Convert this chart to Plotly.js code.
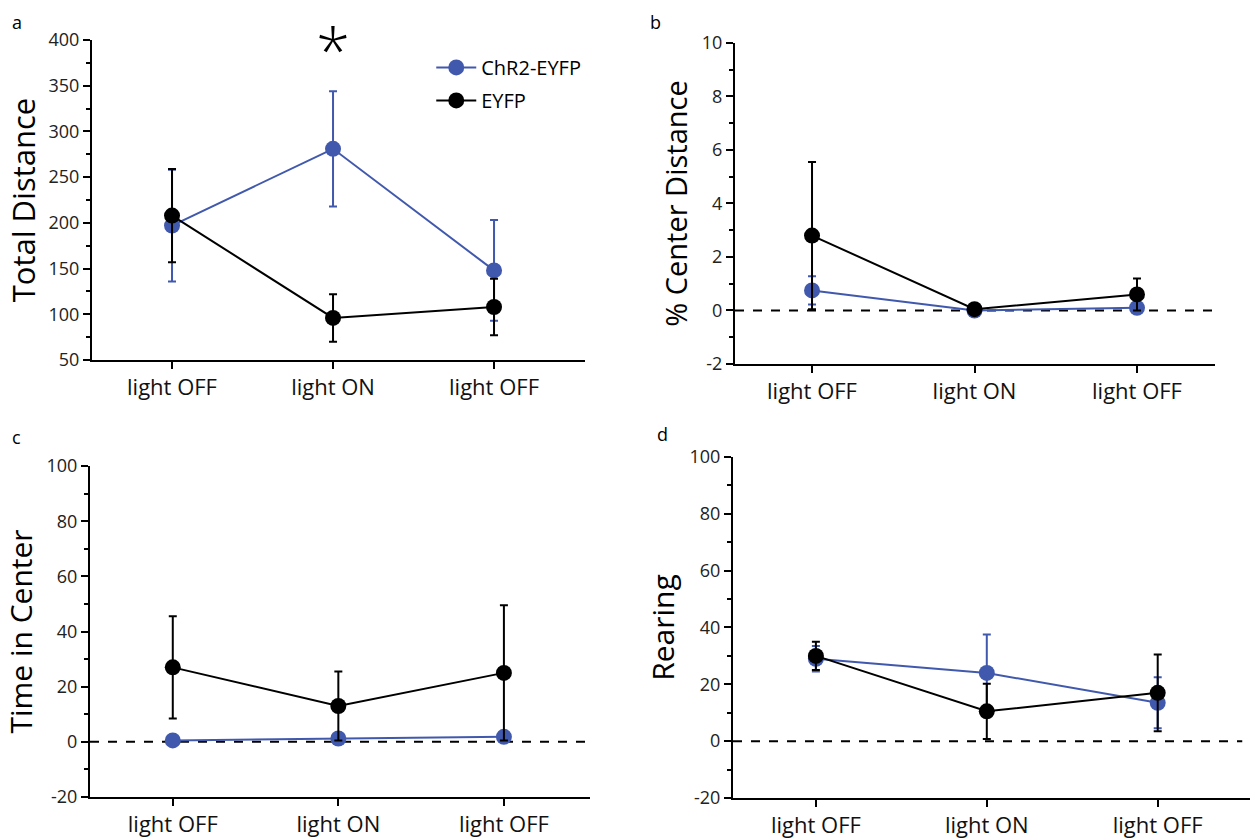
<!DOCTYPE html>
<html>
<head>
<meta charset="utf-8">
<script src="https://cdn.plot.ly/plotly-3.0.1.min.js"></script>
<style>html,body{margin:0;padding:0;background:#fff;}#chart{width:1250px;height:840px;}</style>
</head>
<body>
<div id="chart"></div>
<script>
// ---- data ----
const categories = ["light OFF", "light ON", "light OFF"];
const seriesNames = ["ChR2-EYFP", "EYFP"];

// a: Total Distance
const totalDistChR2 = [197, 281, 148];
const totalDistChR2Err = [61, 63, 55];
const totalDistEYFP = [208, 96, 108];
const totalDistEYFPErr = [51, 26, 31];

// b: % Center Distance
const centerDistChR2 = [0.75, 0.0, 0.1];
const centerDistChR2Err = [0.53, 0.05, 0.1];
const centerDistEYFP = [2.8, 0.05, 0.6];
const centerDistEYFPErr = [2.75, 0.05, 0.6];

// c: Time in Center
const timeCenterChR2 = [0.5, 1.2, 1.8];
const timeCenterChR2Err = [0.5, 0.6, 0.8];
const timeCenterEYFP = [27, 13, 25];
const timeCenterEYFPErr = [18.5, 12.5, 24.5];

// d: Rearing
const rearingChR2 = [29, 24, 13.5];
const rearingChR2Err = [4.5, 13.5, 9];
const rearingEYFP = [30, 10.5, 17];
const rearingEYFPErr = [5, 9.7, 13.5];

const yTicksA = [50, 100, 150, 200, 250, 300, 350, 400];
const yTickLabelsA = ["50", "100", "150", "200", "250", "300", "350", "400"];
const yTicksB = [-2, 0, 2, 4, 6, 8, 10];
const yTickLabelsB = ["-2", "0", "2", "4", "6", "8", "10"];
const yTicksCD = [-20, 0, 20, 40, 60, 80, 100];
const yTickLabelsCD = ["-20", "0", "20", "40", "60", "80", "100"];

// ---- styling ----
const BLUE = "#4159ad";
const BLACK = "#000000";
const xIdx = categories.map((_, i) => i);

function trace(y, err, color, name, ax, showLegend) {
  return {
    x: xIdx, y: y, type: "scatter", mode: "lines+markers",
    name: name, legendgroup: name, showlegend: showLegend,
    xaxis: "x" + ax, yaxis: "y" + ax,
    line: {color: color, width: 2},
    marker: {color: color, size: 16},
    error_y: {type: "data", array: err, visible: true, color: color, thickness: 2, width: 4}
  };
}

const data = [
  trace(totalDistChR2, totalDistChR2Err, BLUE, seriesNames[0], "", true),
  trace(totalDistEYFP, totalDistEYFPErr, BLACK, seriesNames[1], "", true),
  trace(centerDistChR2, centerDistChR2Err, BLUE, seriesNames[0], "2", false),
  trace(centerDistEYFP, centerDistEYFPErr, BLACK, seriesNames[1], "2", false),
  trace(timeCenterChR2, timeCenterChR2Err, BLUE, seriesNames[0], "3", false),
  trace(timeCenterEYFP, timeCenterEYFPErr, BLACK, seriesNames[1], "3", false),
  trace(rearingChR2, rearingChR2Err, BLUE, seriesNames[0], "4", false),
  trace(rearingEYFP, rearingEYFPErr, BLACK, seriesNames[1], "4", false)
];

const FONT = "Open Sans, Lato, sans-serif";

function xaxis(domain, range, anchor) {
  return {
    domain: domain, range: range, anchor: anchor,
    tickmode: "array", tickvals: xIdx, ticktext: categories,
    showline: true, linecolor: "#000", linewidth: 2,
    ticks: "outside", ticklen: 7, tickwidth: 2, tickcolor: "#000",
    showgrid: false, zeroline: false,
    tickfont: {family: FONT, size: 22, color: "#111"}
  };
}
function yaxis(domain, range, tickvals, ticktext, minorDtick, title, anchor, standoff, tsize) {
  return {
    domain: domain, range: range, anchor: anchor,
    tickmode: "array", tickvals: tickvals, ticktext: ticktext,
    showline: true, linecolor: "#000", linewidth: 2,
    ticks: "outside", ticklen: 7, tickwidth: 2, tickcolor: "#000",
    minor: {dtick: minorDtick, tick0: tickvals[0], ticks: "outside", ticklen: 4, tickwidth: 2, tickcolor: "#000"},
    showgrid: false, zeroline: false,
    tickfont: {family: FONT, size: 18, color: "#222"},
    title: {text: title, font: {family: FONT, size: tsize, color: "#000"}, standoff: standoff}
  };
}

const layout = {
  width: 1250, height: 840,
  margin: {l: 0, r: 0, t: 0, b: 0},
  paper_bgcolor: "#fff", plot_bgcolor: "rgba(0,0,0,0)",
  showlegend: true,
  legend: {
    x: 0.345, y: 0.943, xanchor: "left", yanchor: "top",
    font: {family: FONT, size: 20, color: "#000"},
    bgcolor: "rgba(0,0,0,0)", tracegroupgap: 4, itemwidth: 40
  },
  xaxis: xaxis([0.0736, 0.468], [-0.497, 2.565], "y"),
  yaxis: yaxis([0.5714, 0.9524], [50, 400], yTicksA, yTickLabelsA, 25, "Total Distance", "x", 4, 31),
  xaxis2: xaxis([0.588, 0.972], [-0.474, 2.48], "y2"),
  yaxis2: yaxis([0.5667, 0.9488], [-2, 10], yTicksB, yTickLabelsB, 1, "% Center Distance", "x2", 6, 29),
  xaxis3: xaxis([0.072, 0.472], [-0.50, 2.52], "y3"),
  yaxis3: yaxis([0.0512, 0.4452], [-20, 100], yTicksCD, yTickLabelsCD, 10, "Time in Center", "x3", 6, 30),
  xaxis4: xaxis([0.5864, 1.0], [-0.485, 2.54], "y4"),
  yaxis4: yaxis([0.05, 0.456], [-20, 100], yTicksCD, yTickLabelsCD, 10, "Rearing", "x4", 6, 30),
  shapes: [
    {type: "line", xref: "x2 domain", x0: 0, x1: 1, yref: "y2", y0: 0, y1: 0, layer: "below", line: {color: "#000", width: 2, dash: "dash"}},
    {type: "line", xref: "x3 domain", x0: 0, x1: 0.995, yref: "y3", y0: 0, y1: 0, layer: "below", line: {color: "#000", width: 2, dash: "dash"}},
    {type: "line", xref: "x4 domain", x0: 0, x1: 0.985, yref: "y4", y0: 0, y1: 0, layer: "below", line: {color: "#000", width: 2, dash: "dash"}}
  ],
  annotations: [
    {text: "*", x: 1, y: 389, xref: "x", yref: "y", showarrow: false, font: {family: FONT, size: 62, weight: 300, color: "#000"}, yanchor: "middle"},
    {text: "a", x: 0.008, y: 0.99, xref: "paper", yref: "paper", xanchor: "left", yanchor: "top", showarrow: false, font: {family: FONT, size: 18, color: "#000"}},
    {text: "b", x: 0.518, y: 0.99, xref: "paper", yref: "paper", xanchor: "left", yanchor: "top", showarrow: false, font: {family: FONT, size: 18, color: "#000"}},
    {text: "c", x: 0.008, y: 0.496, xref: "paper", yref: "paper", xanchor: "left", yanchor: "top", showarrow: false, font: {family: FONT, size: 18, color: "#000"}},
    {text: "d", x: 0.524, y: 0.5, xref: "paper", yref: "paper", xanchor: "left", yanchor: "top", showarrow: false, font: {family: FONT, size: 18, color: "#000"}}
  ]
};

Plotly.newPlot("chart", data, layout, {displayModeBar: false, staticPlot: true});
</script>
</body>
</html>
